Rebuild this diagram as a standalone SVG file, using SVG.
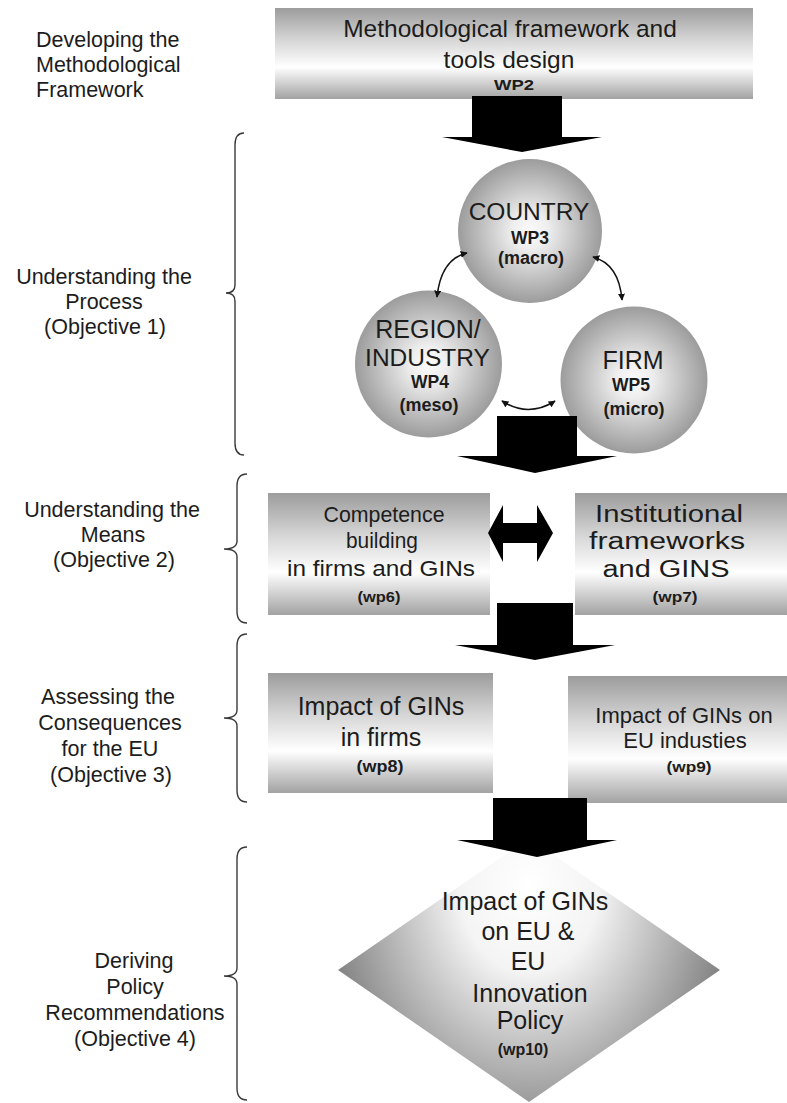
<svg xmlns="http://www.w3.org/2000/svg" width="787" height="1103" viewBox="0 0 787 1103">
<defs>
<style>
text{font-family:"Liberation Sans",Arial,sans-serif;fill:#1c1c1c}
.lbl{font-size:21.5px}
.c{text-anchor:middle}
.b{font-weight:bold}
.brace{fill:none;stroke:#3a3a3a;stroke-width:1.4}
.big{fill:#000}
.curve{fill:none;stroke:#111;stroke-width:1.5}
</style>
<linearGradient id="boxGrad" x1="0" y1="0" x2="0" y2="1">
<stop offset="0" stop-color="#9c9c9c"/>
<stop offset="0.35" stop-color="#d6d6d6"/>
<stop offset="0.65" stop-color="#ffffff"/>
<stop offset="1" stop-color="#a2a2a2"/>
</linearGradient>
<radialGradient id="ballGrad" cx="0.5" cy="0.5" r="0.5">
<stop offset="0" stop-color="#fbfbfb"/>
<stop offset="0.25" stop-color="#eeeeee"/>
<stop offset="1" stop-color="#9c9c9c"/>
</radialGradient>
<radialGradient id="diaGrad" gradientUnits="userSpaceOnUse" cx="529" cy="885" r="200" gradientTransform="translate(529 885) scale(1 1.25) translate(-529 -885)">
<stop offset="0" stop-color="#ffffff"/>
<stop offset="0.35" stop-color="#f4f4f4"/>
<stop offset="1" stop-color="#858585"/>
</radialGradient>
<marker id="ah" viewBox="0 0 10 10" refX="9" refY="5" markerWidth="7" markerHeight="7" markerUnits="userSpaceOnUse" orient="auto-start-reverse">
<path d="M0 0 L10 5 L0 10 Z" fill="#111"/>
</marker>
</defs>
<rect width="787" height="1103" fill="#ffffff"/>

<g id="labels">
<text class="lbl" x="36" y="47">Developing the</text>
<text class="lbl" x="36" y="72">Methodological</text>
<text class="lbl" x="36" y="97">Framework</text>
<text class="lbl c" x="104" y="284">Understanding the</text>
<text class="lbl c" x="104" y="309">Process</text>
<text class="lbl c" x="105" y="334">(Objective 1)</text>
<text class="lbl c" x="112" y="517">Understanding the</text>
<text class="lbl c" x="113" y="542">Means</text>
<text class="lbl c" x="114" y="567">(Objective 2)</text>
<text class="lbl c" x="108" y="704">Assessing the</text>
<text class="lbl c" x="110" y="730">Consequences</text>
<text class="lbl c" x="110" y="756">for the EU</text>
<text class="lbl c" x="111" y="782">(Objective 3)</text>
<text class="lbl c" x="134" y="968">Deriving</text>
<text class="lbl c" x="135" y="994">Policy</text>
<text class="lbl c" x="135" y="1020">Recommendations</text>
<text class="lbl c" x="135" y="1046">(Objective 4)</text>
<path class="brace" d="M244 133 C238 133 235 137 235 145 L235 285 C235 290 232 293 226 293 C232 293 235 296 235 301 L235 443 C235 451 238 455 244 455"/>
<path class="brace" d="M247 474 C240 474 237 478 237 486 L237 541 C237 546 233 549 224 549 C233 549 237 552 237 557 L237 611 C237 619 240 623 247 623"/>
<path class="brace" d="M247 634 C240 634 237 638 237 646 L237 710 C237 715 233 718 224 718 C233 718 237 721 237 726 L237 790 C237 798 240 802 247 802"/>
<path class="brace" d="M247 847 C240 847 237 851 237 859 L237 968 C237 973 233 976 224 976 C233 976 237 979 237 984 L237 1088 C237 1096 240 1100 247 1100"/>
</g>

<g id="wp2">
<rect x="275" y="8" width="478" height="91" fill="url(#boxGrad)"/>
<text class="c" x="510" y="37" font-size="24.5">Methodological framework and</text>
<text class="c" x="509" y="68" font-size="24.5">tools design</text>
<text class="c b" x="514" y="90" font-size="15" textLength="40" lengthAdjust="spacingAndGlyphs">WP2</text>
</g>

<g id="country">
<circle cx="530" cy="231" r="72" fill="url(#ballGrad)"/>
<text class="c" x="529" y="220" font-size="24.5">COUNTRY</text>
<text class="c b" x="530" y="244" font-size="17.5">WP3</text>
<text class="c b" x="531" y="264" font-size="18">(macro)</text>
</g>

<g id="region">
<circle cx="428.5" cy="364" r="73.5" fill="url(#ballGrad)"/>
<text class="c" x="428" y="338" font-size="25">REGION/</text>
<text class="c" x="427.5" y="366" font-size="24.5">INDUSTRY</text>
<text class="c b" x="430" y="388" font-size="17.5">WP4</text>
<text class="c b" x="429" y="411" font-size="18">(meso)</text>
</g>

<g id="firm">
<circle cx="634" cy="380" r="73.5" fill="url(#ballGrad)"/>
<text class="c" x="633" y="369" font-size="25">FIRM</text>
<text class="c b" x="631" y="391" font-size="17.5">WP5</text>
<text class="c b" x="634" y="415" font-size="18">(micro)</text>
</g>

<g id="wp6">
<rect x="268" y="493" width="222" height="122" fill="url(#boxGrad)"/>
<text class="c" x="384" y="522" font-size="22.5" textLength="121" lengthAdjust="spacingAndGlyphs">Competence</text>
<text class="c" x="382" y="548" font-size="22.5" textLength="72" lengthAdjust="spacingAndGlyphs">building</text>
<text class="c" x="381" y="576" font-size="22.5" textLength="188" lengthAdjust="spacingAndGlyphs">in firms and GINs</text>
<text class="c b" x="379" y="602" font-size="15" textLength="43" lengthAdjust="spacingAndGlyphs">(wp6)</text>
</g>

<g id="wp7">
<rect x="575" y="493" width="212" height="122" fill="url(#boxGrad)"/>
<text class="c" x="669" y="522" font-size="23" textLength="148" lengthAdjust="spacingAndGlyphs">Institutional</text>
<text class="c" x="667" y="549" font-size="23" textLength="156" lengthAdjust="spacingAndGlyphs">frameworks</text>
<text class="c" x="666" y="577" font-size="23" textLength="127" lengthAdjust="spacingAndGlyphs">and GINS</text>
<text class="c b" x="675" y="602" font-size="15" textLength="45" lengthAdjust="spacingAndGlyphs">(wp7)</text>
</g>

<g id="wp8">
<rect x="268" y="673" width="225" height="120" fill="url(#boxGrad)"/>
<text class="c" x="381" y="715" font-size="25">Impact of GINs</text>
<text class="c" x="381" y="746" font-size="25">in firms</text>
<text class="c b" x="380" y="772" font-size="16" textLength="47" lengthAdjust="spacingAndGlyphs">(wp8)</text>
</g>

<g id="wp9">
<rect x="568" y="676" width="219" height="127" fill="url(#boxGrad)"/>
<text class="c" x="684" y="723" font-size="22">Impact of GINs on</text>
<text class="c" x="685" y="748" font-size="22">EU industies</text>
<text class="c b" x="689" y="772" font-size="15" textLength="45" lengthAdjust="spacingAndGlyphs">(wp9)</text>
</g>

<g id="wp10">
<polygon points="529,838 720,970 529,1102 338,970" fill="url(#diaGrad)"/>
<text class="c" x="525" y="910" font-size="25">Impact of GINs</text>
<text class="c" x="528" y="940" font-size="25">on EU &amp;</text>
<text class="c" x="528" y="970" font-size="25">EU</text>
<text class="c" x="530" y="1002" font-size="25">Innovation</text>
<text class="c" x="530" y="1029" font-size="25">Policy</text>
<text class="c b" x="523" y="1055" font-size="16">(wp10)</text>
</g>

<g id="connectors">
<polygon class="big" points="472,96 562,96 562,137 602,137 522,152 442,137 472,137"/>
<polygon class="big" points="497,416 577,416 577,456 617,456 535,473 457,456 497,456"/>
<polygon class="big" points="497,603 573,603 573,645 615,645 535,660 455,645 497,645"/>
<polygon class="big" points="493,798 587,798 587,840 617,840 537,857 457,840 493,840"/>
<polygon class="big" points="488,533 503,505 503,523 537,523 537,505 553,533 537,562 537,543 503,543 503,562"/>
<path class="curve" d="M467 253 Q441 259 437 297" marker-start="url(#ah)" marker-end="url(#ah)"/>
<path class="curve" d="M593 257 Q619 264 622 300" marker-start="url(#ah)" marker-end="url(#ah)"/>
<path class="curve" d="M502 401 Q528 418 555 401" marker-start="url(#ah)" marker-end="url(#ah)"/>
</g>
</svg>
